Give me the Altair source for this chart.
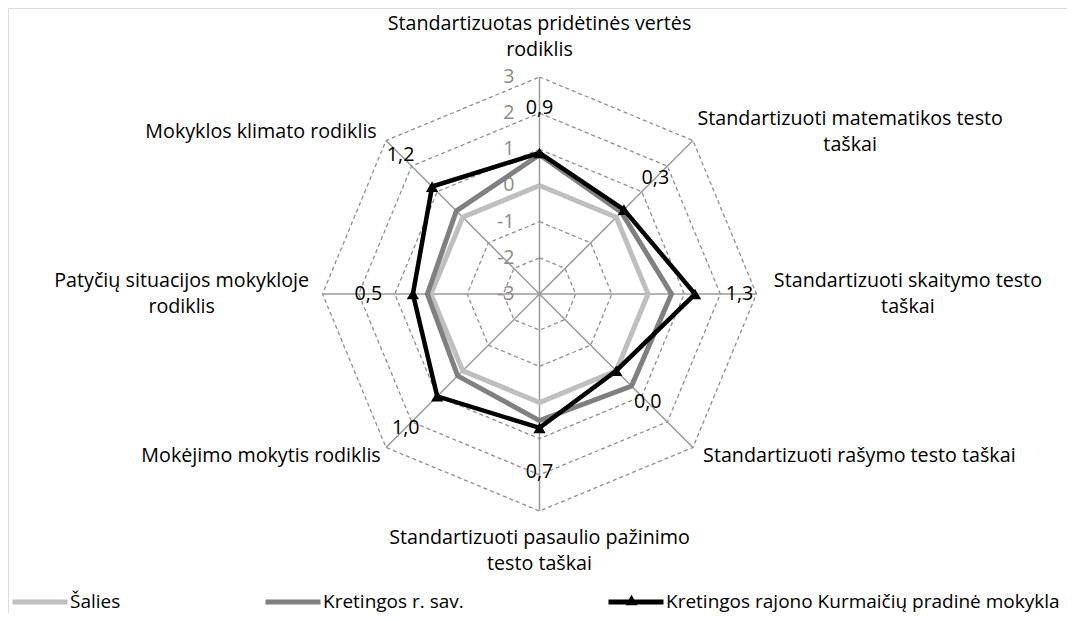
import altair as alt
import pandas as pd
import numpy as np

# ---------------- data ----------------
categories = [
    "Standartizuotas pridėtinės vertės\nrodiklis",
    "Standartizuoti matematikos testo\ntaškai",
    "Standartizuoti skaitymo testo\ntaškai",
    "Standartizuoti rašymo testo taškai",
    "Standartizuoti pasaulio pažinimo\ntesto taškai",
    "Mokėjimo mokytis rodiklis",
    "Patyčių situacijos mokykloje\nrodiklis",
    "Mokyklos klimato rodiklis",
]
series_names = ["Šalies", "Kretingos r. sav.", "Kretingos rajono Kurmaičių pradinė mokykla"]
salies = [0.0, 0.0, 0.0, 0.0, 0.0, 0.0, 0.0, 0.0]
kretingos_sav = [0.85, 0.2, 0.65, 0.6, 0.5, 0.2, 0.1, 0.25]
kurmaiciu = [0.9, 0.3, 1.3, 0.0, 0.7, 1.0, 0.5, 1.2]
ring_ticks = [-3, -2, -1, 0, 1, 2, 3]

# ---------------- layout constants ----------------
W, H = 1059, 605
CX, CY = 531.5, 286.0          # centre of the radar in plot pixels
K = 36.17                      # pixels per unit
VMIN, VMAX = -3, 3
N = len(categories)
FONT = "Open Sans"
FS = 19.7
LH = 26


def polar(v, i):
    r = v - VMIN
    th = i * 2 * np.pi / N
    return r * np.sin(th), r * np.cos(th)


rows = []
for name, vals in zip(series_names, [salies, kretingos_sav, kurmaiciu]):
    for j in range(N + 1):
        i = j % N
        x, y = polar(vals[i], i)
        rows.append(dict(series=name, x=x, y=y, order=j, value=vals[i], closing=j == N))
series_df = pd.DataFrame(rows)

ring_rows = []
for t in ring_ticks:
    for j in range(N + 1):
        x, y = polar(t, j % N)
        ring_rows.append(dict(ring=t, x=x, y=y, order=j))
ring_df = pd.DataFrame(ring_rows)

spoke_rows = []
for i in range(N):
    x2, y2 = polar(VMAX, i)
    spoke_rows.append(dict(x=0.0, y=0.0, x2=x2, y2=y2))
spoke_df = pd.DataFrame(spoke_rows)

tick_df = pd.DataFrame([dict(text=str(t), x=-25 / K, y=t - VMIN) for t in ring_ticks])

lab_rows = []
for i, v in enumerate(kurmaiciu):
    r = v - VMIN + 44.5 / K
    th = i * 2 * np.pi / N
    lab_rows.append(dict(text=f"{v:.1f}".replace(".", ","), x=r * np.sin(th), y=r * np.cos(th)))
datalab_df = pd.DataFrame(lab_rows)

char_w = 9.2
cat_rows = []
for i, c in enumerate(categories):
    th = i * 2 * np.pi / N
    s, co = np.sin(th), np.cos(th)
    vx, vy = (VMAX - VMIN) * s * K, (VMAX - VMIN) * co * K
    lines = c.split("\n")
    n = len(lines)
    if abs(s) < 1e-6:
        x = vx
        yc = vy + np.sign(co) * (n * LH / 2 + 14)
    else:
        w = max(len(l) for l in lines) * char_w
        if abs(co) > 0.1:
            pad = 10
        else:
            pad = 18 if s > 0 else 12
        x = vx + np.sign(s) * (pad + w / 2)
        yc = vy + co * 12
    y_first = yc + (n - 1) * LH / 2
    cat_rows.append(dict(text=c, x=x / K, y=y_first / K))
cat_df = pd.DataFrame(cat_rows)

xs = alt.Scale(domain=[-CX / K, (W - CX) / K], nice=False, zero=False)
ys = alt.Scale(domain=[-(H - CY) / K, CY / K], nice=False, zero=False)
X = lambda f="x": alt.X(f"{f}:Q", scale=xs, axis=None)
Y = lambda f="y": alt.Y(f"{f}:Q", scale=ys, axis=None)

LEG_Y = 564
LEG_FS = 19
colors = ["#bfbfbf", "#808080", "#000000"]
color_enc = alt.Color(
    "series:N",
    scale=alt.Scale(domain=series_names, range=colors),
    legend=alt.Legend(
        orient="none", legendX=2, legendY=LEG_Y, direction="horizontal", title=None,
        symbolType="stroke", symbolStrokeWidth=5, symbolSize=3025,
        labelFont=FONT, labelFontSize=LEG_FS, labelColor="#000000",
        columnPadding=134, labelOffset=0, padding=0, labelLimit=500, zindex=0,
    ),
)

rings = alt.Chart(ring_df).mark_line(
    stroke="#8f8f8f", strokeWidth=1.3, strokeDash=[4, 3]
).encode(x=X(), y=Y(), detail="ring:N", order="order:Q")

spokes = alt.Chart(spoke_df).mark_rule(stroke="#9a9a9a", strokeWidth=1.5).encode(
    x=X(), y=Y(), x2="x2:Q", y2="y2:Q"
)

ticks = alt.Chart(tick_df).mark_text(
    align="right", baseline="middle", font=FONT, fontSize=FS, color="#8c8c8c"
).encode(x=X(), y=Y(), text="text:N")

lines = []
for name, sw in zip(series_names, [5, 5, 4.5]):
    lines.append(
        alt.Chart(series_df[series_df.series == name]).mark_line(strokeWidth=sw, strokeJoin="miter")
        .encode(x=X(), y=Y(), color=color_enc, order="order:Q")
    )

# triangle markers; their shape legend sits on the third legend entry's line
points = alt.Chart(series_df[(series_df.series == series_names[2]) & (~series_df.closing)]).mark_point(
    filled=True, size=150, opacity=1, color="#000000"
).encode(
    x=X(), y=Y(),
    shape=alt.Shape(
        "series:N",
        scale=alt.Scale(domain=[series_names[2]], range=["triangle-up"]),
        legend=alt.Legend(
            orient="none", legendX=617, legendY=LEG_Y + 21.5, title=None,
            labelOpacity=0, labelFontSize=1, labelLimit=1, labelOffset=0,
            symbolSize=150, symbolFillColor="#000000", symbolStrokeColor="#000000",
            symbolStrokeWidth=0, padding=0, zindex=1,
        ),
    ),
)

datalabels = alt.Chart(datalab_df).mark_text(
    align="center", baseline="middle", font=FONT, fontSize=FS, color="#000000"
).encode(x=X(), y=Y(), text="text:N")

catlabels = alt.Chart(cat_df).mark_text(
    align="center", baseline="middle", font=FONT, fontSize=FS, color="#000000",
    lineBreak="\n", lineHeight=LH,
).encode(x=X(), y=Y(), text="text:N")

chart = alt.layer(
    rings, spokes, ticks, *lines, points, datalabels, catlabels
).properties(
    width=W, height=H, padding=0, autosize=alt.AutoSizeParams(type="none")
).configure_view(strokeWidth=0).configure(background="transparent")

chart.save("out.html", embed_options={"renderer": "svg", "actions": False})
